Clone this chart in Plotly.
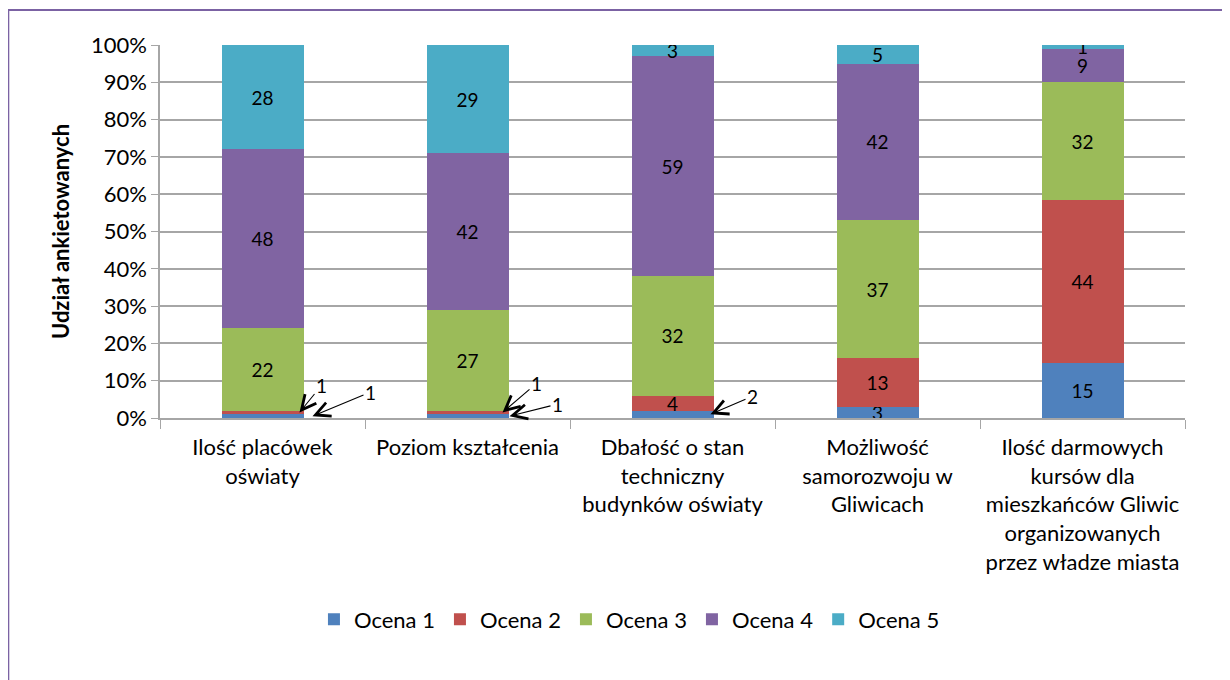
import plotly.graph_objects as go

categories = [
    "Ilość placówek<br>oświaty",
    "Poziom kształcenia",
    "Dbałość o stan<br>techniczny<br>budynków oświaty",
    "Możliwość<br>samorozwoju w<br>Gliwicach",
    "Ilość darmowych<br>kursów dla<br>mieszkańców Gliwic<br>organizowanych<br>przez władze miasta",
]
series_names = ["Ocena 1", "Ocena 2", "Ocena 3", "Ocena 4", "Ocena 5"]
ocena_1 = [1, 1, 2, 3, 15]
ocena_2 = [1, 1, 4, 13, 44]
ocena_3 = [22, 27, 32, 37, 32]
ocena_4 = [48, 42, 59, 42, 9]
ocena_5 = [28, 29, 3, 5, 1]
y_ticks = [0, 10, 20, 30, 40, 50, 60, 70, 80, 90, 100]

colors = ["#4F81BD", "#C0504D", "#9BBB59", "#8064A2", "#4BACC6"]
FONT = "Lato"

# values too small to print inside the bar get a callout arrow instead
callouts = {(0, 0), (0, 1), (1, 0), (1, 1), (2, 0)}

all_series = [ocena_1, ocena_2, ocena_3, ocena_4, ocena_5]

fig = go.Figure()
for s, (name, vals) in enumerate(zip(series_names, all_series)):
    text = ["" if (i, s) in callouts else str(v) for i, v in enumerate(vals)]
    fig.add_bar(
        x=categories, y=vals, name=name,
        marker=dict(color=colors[s], line=dict(width=0)),
        text=text, textposition="inside", insidetextanchor="middle",
        constraintext="none", textangle=0,
        textfont=dict(family=FONT, size=19, color="black"),
    )

# callout arrows: (category, series, xshift of tip, label offset ax, ay)
arrow_spec = [
    (0, 1, 37, 22, -27),
    (0, 0, 50, 58, -24),
    (1, 1, 35, 34, -29),
    (1, 0, 42, 48, -12),
    (2, 0, 38, 42, -18),
]
for i, s, xs, ax, ay in arrow_spec:
    totals = sum(ser[i] for ser in all_series)
    below = sum(all_series[k][i] for k in range(s))
    y_mid = (below + all_series[s][i] / 2) / totals * 100
    fig.add_annotation(
        x=categories[i], y=y_mid, xshift=xs, text=str(all_series[s][i]),
        showarrow=True, ax=ax, ay=ay, arrowhead=5, arrowsize=2.6, arrowwidth=1.1,
        arrowcolor="black", font=dict(family=FONT, size=19, color="black"),
        standoff=0,
    )

fig.update_layout(
    barmode="stack", barnorm="percent", bargap=0.6,
    width=1222, height=672,
    margin=dict(l=152, r=45, t=37, b=262),
    plot_bgcolor="white", paper_bgcolor="white",
    font=dict(family=FONT, size=22, color="black"),
    legend=dict(
        orientation="h", x=0.458, xanchor="center", y=-0.54, yanchor="middle",
        font=dict(family=FONT, size=22), itemwidth=30, traceorder="normal",
    ),
    shapes=[dict(
        type="rect", xref="paper", yref="paper",
        x0=-0.148, x1=1.05, y0=-0.75, y1=1.094,
        line=dict(color="#7B62A3", width=2), fillcolor="rgba(0,0,0,0)", layer="below",
    )],
)
fig.update_yaxes(
    range=[0, 100], tickvals=y_ticks, ticktext=[f"{t}%" for t in y_ticks],
    showgrid=True, gridcolor="#A6A6A6", gridwidth=1.5,
    showline=True, linecolor="#A6A6A6", linewidth=1.5,
    ticks="outside", ticklen=7, tickcolor="#A6A6A6",
    tickfont=dict(family=FONT, size=22),
    title=dict(text="<b>Udział ankietowanych</b>", font=dict(family=FONT, size=22), standoff=15),
)
fig.update_xaxes(
    showline=True, linecolor="#A6A6A6", linewidth=1.5,
    ticks="outside", ticklen=9, tickcolor="#A6A6A6", tickson="boundaries",
    tickfont=dict(family=FONT, size=22), ticklabelstandoff=9,
)

fig.write_html("out.html")
